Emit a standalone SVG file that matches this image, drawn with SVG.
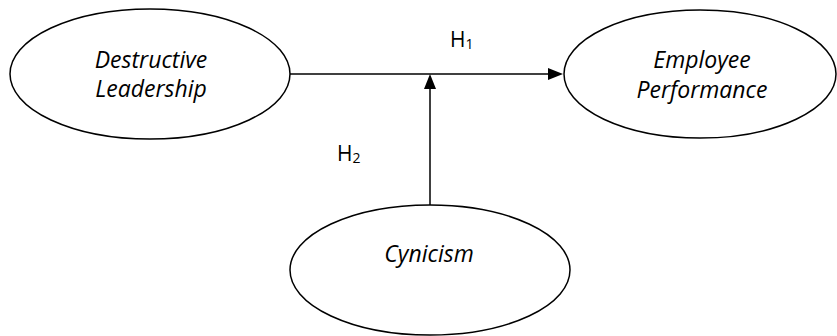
<svg xmlns="http://www.w3.org/2000/svg" width="837" height="336" viewBox="0 0 837 336">
<defs>
<style>
.node{fill:#fff;stroke:#000;stroke-width:1.5}
.lbl{font-family:"Open Sans","Liberation Sans",sans-serif;font-style:italic;font-size:23px;fill:#000;text-anchor:middle}
.h{font-family:"Open Sans","Liberation Sans",sans-serif;font-size:21px;fill:#000}
.sub{font-size:14px}
.edge{stroke:#000;stroke-width:1.5;fill:none}
.head{fill:#000}
</style>
</defs>
<g id="connectors">
<line class="edge" x1="290" y1="74" x2="550" y2="74"/>
<path class="head" d="M548,68 L563,74 L548,80 Z"/>
<line class="edge" x1="430" y1="205" x2="430" y2="88"/>
<path class="head" d="M424,89 L430,74 L436,89 Z"/>
</g>
<g id="destructive-leadership">
<ellipse class="node" cx="150" cy="74" rx="140" ry="65"/>
<text class="lbl" x="151" y="68">Destructive</text>
<text class="lbl" x="151" y="97">Leadership</text>
</g>
<g id="employee-performance">
<ellipse class="node" cx="700" cy="74" rx="136" ry="64"/>
<text class="lbl" x="702" y="68">Employee</text>
<text class="lbl" x="702" y="98">Performance</text>
</g>
<g id="cynicism">
<ellipse class="node" cx="430" cy="270" rx="140" ry="65"/>
<text class="lbl" x="429" y="262">Cynicism</text>
</g>
<g id="labels">
<text class="h" x="450" y="47">H<tspan class="sub" dy="2">1</tspan></text>
<text class="h" x="337" y="161">H<tspan class="sub" dy="2">2</tspan></text>
</g>
</svg>
